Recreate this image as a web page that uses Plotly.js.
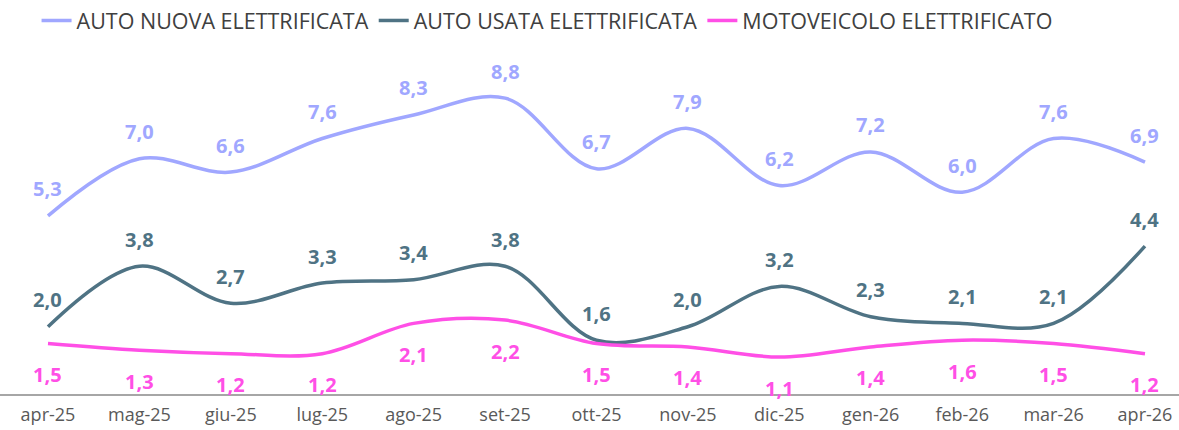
<!DOCTYPE html>
<html>
<head>
<meta charset="utf-8">
<script src="https://cdn.plot.ly/plotly-3.0.1.min.js"></script>
<style>html,body{margin:0;padding:0;background:#fff;}#chart{width:1179px;height:430px;}</style>
</head>
<body>
<div id="chart"></div>
<script>
const months = ["apr-25","mag-25","giu-25","lug-25","ago-25","set-25","ott-25","nov-25","dic-25","gen-26","feb-26","mar-26","apr-26"];
const autoNuova = [5.3,7.0,6.6,7.6,8.3,8.8,6.7,7.9,6.2,7.2,6.0,7.6,6.9];
const autoUsata = [2.0,3.8,2.7,3.3,3.4,3.8,1.6,2.0,3.2,2.3,2.1,2.1,4.4];
const moto = [1.5,1.3,1.2,1.2,2.1,2.2,1.5,1.4,1.1,1.4,1.6,1.5,1.2];

const seriesNames = ["AUTO NUOVA ELETTRIFICATA","AUTO USATA ELETTRIFICATA","MOTOVEICOLO ELETTRIFICATO"];
const colors = ["#A0A7FF","#4F7384","#FF4FE6"];
const labelShift = [27, 27, -31];
const allSeries = [autoNuova, autoUsata, moto];

const traces = allSeries.map((vals, k) => ({
  x: months, y: vals, type: "scatter", mode: "lines",
  name: seriesNames[k],
  line: {color: colors[k], width: 3.5, shape: "spline", smoothing: 1},
  hoverinfo: "skip"
}));

const annotations = [];
allSeries.forEach((vals, k) => {
  vals.forEach((v, i) => {
    annotations.push({
      x: months[i], y: v, xref: "x", yref: "y",
      text: v.toFixed(1).replace(".", ","),
      showarrow: false, yshift: labelShift[k],
      font: {family: "Open Sans, sans-serif", size: 20, color: colors[k], weight: "bold"}
    });
  });
});

const layout = {
  width: 1179, height: 430,
  margin: {l: 0, r: 0, t: 40, b: 36},
  paper_bgcolor: "#fff", plot_bgcolor: "#fff",
  showlegend: true,
  legend: {orientation: "h", x: 0.464, xanchor: "center", y: 1.0, yanchor: "top",
           yref: "container", font: {family: "Open Sans, sans-serif", size: 21.5, color: "#404040"},
           tracegroupgap: 0},
  xaxis: {type: "category", range: [-0.525, 12.372], showgrid: false, zeroline: false,
          showline: true, linecolor: "#A6A6A6", linewidth: 2, ticks: "", ticklabelstandoff: 3,
          tickfont: {family: "Open Sans, sans-serif", size: 18, color: "#595959"}, fixedrange: true},
  yaxis: {range: [0, 10.5], visible: false, fixedrange: true},
  annotations: annotations
};

Plotly.newPlot("chart", traces, layout, {displayModeBar: false, staticPlot: true});
</script>
</body>
</html>
